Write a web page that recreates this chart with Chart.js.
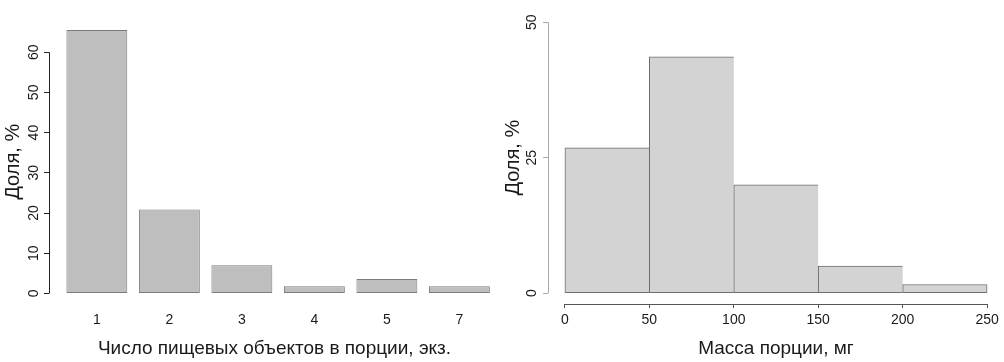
<!DOCTYPE html>
<html>
<head>
<meta charset="utf-8">
<script src="https://cdn.jsdelivr.net/npm/chart.js@4/dist/chart.umd.min.js"></script>
<style>
  html, body { margin: 0; padding: 0; background: #fff; }
  #wrap { position: relative; width: 1004px; height: 362px; overflow: hidden; }
  #c1 { position: absolute; left: 0; top: 0; }
  #c2 { position: absolute; left: 500px; top: 0; }
</style>
</head>
<body>
<div id="wrap">
  <canvas id="c1" width="500" height="362"></canvas>
  <canvas id="c2" width="504" height="362"></canvas>
</div>
<script>
// ---- Data: left chart (number of food objects per portion) ----
const itemCategories = ["1", "2", "3", "4", "5", "7"];
const itemShares = [65.5, 20.9, 7.0, 1.8, 3.6, 1.8];
const itemYTicks = [0, 10, 20, 30, 40, 50, 60];

// ---- Data: right chart (portion mass histogram) ----
const massBreaks = [0, 50, 100, 150, 200, 250];
const massShares = [26.8, 43.6, 20.0, 5.0, 1.6];
const massYTicks = [0, 25, 50];

const FONT = "'Liberation Sans', Arial, Helvetica, sans-serif";
const TXT = '#1a1a1a';

// R-style axis line: drawn only from first to last tick
const rAxisLine = {
  id: 'rAxisLine',
  afterDraw(chart, args, opts) {
    const ctx = chart.ctx;
    const ca = chart.chartArea;
    ctx.save();
    ctx.lineWidth = 1;
    (opts.axes || []).forEach(a => {
      const s = chart.scales[a.id];
      const t = s.ticks;
      if (!t.length) return;
      const p0 = s.getPixelForValue(t[0].value);
      const p1 = s.getPixelForValue(t[t.length - 1].value);
      ctx.strokeStyle = a.color;
      ctx.beginPath();
      if (s.isHorizontal()) {
        const y = Math.round(ca.bottom) + 0.5;
        ctx.moveTo(p0, y); ctx.lineTo(p1, y);
      } else {
        const x = Math.round(ca.left) + 0.5;
        ctx.moveTo(x, p0); ctx.lineTo(x, p1);
      }
      ctx.stroke();
    });
    ctx.restore();
  }
};

// ---------------- Left chart ----------------
const itemPositions = itemCategories.map((_, i) => i + 1);
new Chart(document.getElementById('c1'), {
  type: 'bar',
  data: {
    datasets: [{
      data: itemPositions.map((p, i) => ({ x: p, y: itemShares[i] })),
      backgroundColor: '#bebebe',
      borderColor: '#7c7c7c',
      borderWidth: 1,
      borderSkipped: false,
      categoryPercentage: 1,
      barPercentage: 0.84
    }]
  },
  options: {
    responsive: false,
    animation: false,
    events: [],
    layout: { padding: { top: 19.5, left: 0, right: 0, bottom: 0 } },
    plugins: {
      legend: { display: false },
      tooltip: { enabled: false },
      rAxisLine: { axes: [{ id: 'y', color: '#222' }] }
    },
    scales: {
      x: {
        type: 'linear',
        offset: false,
        min: 0.34, max: 6.56,
        afterBuildTicks: s => { s.ticks = itemPositions.map(v => ({ value: v })); },
        afterFit: s => { s.height = 58; },
        grid: { display: false, drawTicks: false, offset: false },
        border: { display: false },
        ticks: {
          padding: 8,
          color: TXT,
          font: { family: FONT, size: 14 },
          callback: (v) => itemCategories[Math.round(v) - 1]
        },
        title: {
          display: true,
          text: 'Число пищевых объектов в порции, экз.',
          color: TXT,
          font: { family: FONT, size: 19 },
          padding: { top: 0, bottom: 2 }
        }
      },
      y: {
        min: -2.62, max: 68.12,
        afterBuildTicks: s => { s.ticks = itemYTicks.map(v => ({ value: v })); },
        afterFit: s => { s.width = 49; },
        grid: { display: true, drawOnChartArea: false, drawTicks: true, tickLength: 5, color: '#222' },
        border: { display: false },
        ticks: {
          padding: 2,
          color: TXT,
          crossAlign: 'center',
          minRotation: 90, maxRotation: 90,
          font: { family: FONT, size: 14 }
        },
        title: {
          display: true,
          text: 'Доля, %',
          color: TXT,
          font: { family: FONT, size: 20 },
          padding: { top: 1, bottom: 0 }
        }
      }
    }
  },
  plugins: [rAxisLine]
});

// ---------------- Right chart ----------------
const massMids = massShares.map((_, i) => (massBreaks[i] + massBreaks[i + 1]) / 2);
const lastBin = massShares.length - 1;
new Chart(document.getElementById('c2'), {
  type: 'bar',
  data: {
    datasets: [{
      data: massMids.map((m, i) => ({ x: m, y: massShares[i] })),
      backgroundColor: '#d3d3d3',
      borderColor: '#6e6e6e',
      borderWidth: c => ({ top: 1, left: 1, bottom: 1, right: c.dataIndex === lastBin ? 1 : 0 }),
      borderSkipped: false,
      categoryPercentage: 1,
      barPercentage: 1
    }]
  },
  options: {
    responsive: false,
    animation: false,
    events: [],
    layout: { padding: { top: 0, left: 0, right: 0, bottom: 0 } },
    plugins: {
      legend: { display: false },
      tooltip: { enabled: false },
      rAxisLine: { axes: [{ id: 'y', color: '#a8a8a8' }, { id: 'x', color: '#555' }] }
    },
    scales: {
      x: {
        type: 'linear',
        offset: false,
        min: -10, max: 260,
        afterBuildTicks: s => { s.ticks = massBreaks.map(v => ({ value: v })); },
        afterFit: s => { s.height = 58; },
        grid: { display: true, drawOnChartArea: false, drawTicks: true, tickLength: 4, color: '#555', offset: false },
        border: { display: false },
        ticks: {
          padding: 4,
          color: TXT,
          font: { family: FONT, size: 14 }
        },
        title: {
          display: true,
          text: 'Масса порции, мг',
          color: TXT,
          font: { family: FONT, size: 19 },
          padding: { top: 0, bottom: 2 }
        }
      },
      y: {
        min: -2, max: 52,
        afterBuildTicks: s => { s.ticks = massYTicks.map(v => ({ value: v })); },
        afterFit: s => { s.width = 48; },
        grid: { display: true, drawOnChartArea: false, drawTicks: true, tickLength: 5, color: '#a8a8a8' },
        border: { display: false },
        ticks: {
          padding: 3,
          color: TXT,
          crossAlign: 'center',
          minRotation: 90, maxRotation: 90,
          font: { family: FONT, size: 14 }
        },
        title: {
          display: true,
          text: 'Доля, %',
          color: TXT,
          font: { family: FONT, size: 20 },
          padding: { top: 1, bottom: 0 }
        }
      }
    }
  },
  plugins: [rAxisLine]
});
</script>
</body>
</html>
